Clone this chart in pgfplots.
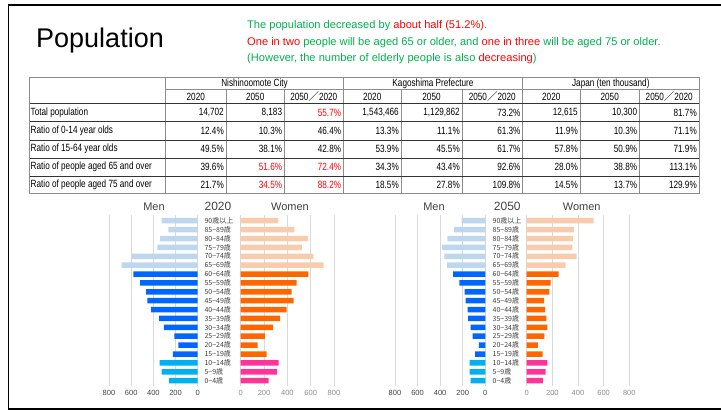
\documentclass[border=0pt]{standalone}
\usepackage{pgfplots}
\pgfplotsset{compat=1.18}
\usepackage{fontspec}
\setmainfont{Liberation Sans}
\newfontfamily\narrow[FakeStretch=0.78]{Liberation Sans}
\newfontfamily\cjk{Noto Sans CJK JP}
\definecolor{grn}{RGB}{0,176,80}
\definecolor{rd}{RGB}{255,0,0}
\definecolor{menold}{RGB}{189,215,238}
\definecolor{menmid}{RGB}{0,102,255}
\definecolor{menyng}{RGB}{0,176,240}
\definecolor{womold}{RGB}{248,203,173}
\definecolor{wommid}{RGB}{255,102,0}
\definecolor{womyng}{RGB}{255,51,153}
\definecolor{txtg}{RGB}{64,64,64}

\pgfplotsset{pyr/.style={scale only axis, anchor=north west,
  height=170.6pt, ymin=-0.6, ymax=18.6, xmin=0, xmax=800,
  ytick=\empty, xtick={0,200,400,600,800},
  axis line style={draw=none}, major tick length=0pt,
  xmajorgrids, grid style={draw=black!15, line width=0.6pt},
  xbar, bar width=5.5pt, bar shift=0pt,
  /pgf/number format/assume math mode=true,
  xticklabel style={font=\fontsize{7.5}{8}\selectfont, text=txtg, yshift=-1pt},
  clip=false}}

\newcommand{\tf}{\narrow\fontsize{10.5}{12}\selectfont}
\newcommand{\fwsl}{{\cjk ／}}
\newcommand{\rowvals}[9]{%
  \node[anchor=east,inner sep=0pt,font=\tf] at (224,\ry) {#1};
  \node[anchor=east,inner sep=0pt,font=\tf] at (282.3,\ry) {#2};
  \node[anchor=east,inner sep=0pt,font=\tf] at (341.3,\ry) {#3};
  \node[anchor=east,inner sep=0pt,font=\tf] at (399,\ry) {#4};
  \node[anchor=east,inner sep=0pt,font=\tf] at (460,\ry) {#5};
  \node[anchor=east,inner sep=0pt,font=\tf] at (520.7,\ry) {#6};
  \node[anchor=east,inner sep=0pt,font=\tf] at (578,\ry) {#7};
  \node[anchor=east,inner sep=0pt,font=\tf] at (637.3,\ry) {#8};
  \node[anchor=east,inner sep=0pt,font=\tf] at (697,\ry) {#9};
}

\begin{document}
\begin{tikzpicture}[x=1pt,y=-1pt]
% slide frame
\draw[line width=2pt] (8,5) -- (721,5);
\draw[line width=1.5pt] (8.5,4) -- (8.5,409.5);
\draw[line width=2pt] (8,409) -- (721,409);

% title and notes
\node[anchor=base west,inner sep=0pt,font=\fontsize{27}{30}\selectfont] at (36,47) {Population};
\node[anchor=base west,inner sep=0pt,font=\fontsize{11.1}{14}\selectfont,text=grn] at (247,28.5)
  {The population decreased by \textcolor{rd}{about half (51.2\%)}.};
\node[anchor=base west,inner sep=0pt,font=\fontsize{11.1}{14}\selectfont,text=grn] at (247,45.5)
  {\textcolor{rd}{One in two} people will be aged 65 or older, and \textcolor{rd}{one in three} will be aged 75 or older.};
\node[anchor=base west,inner sep=0pt,font=\fontsize{11.1}{14}\selectfont,text=grn] at (247,61.5)
  {(However, the number of elderly people is also \textcolor{rd}{decreasing})};

% table lines
\draw[black!45,line width=0.8pt] (165.7,77.7) -- (165.7,193.3);
\foreach \xx in {226,284.3,401,462,580,639.3} \draw[black!45,line width=0.8pt] (\xx,89.3) -- (\xx,193.3);
\foreach \xx in {343.3,522.7} \draw[black!45,line width=0.8pt] (\xx,77.7) -- (\xx,193.3);
\draw[black!45,line width=0.8pt] (165.7,89.3) -- (699,89.3);
\foreach \yy in {103.3,121.7,140,158.3,176} \draw[black!80,line width=0.8pt] (29,\yy) -- (699,\yy);
\draw[black!45,line width=1pt] (29,77.7) rectangle (699,193.3);

% table headers
\node[font=\tf,inner sep=0pt] at (254.5,83.5) {Nishinoomote City};
\node[font=\tf,inner sep=0pt] at (433,83.5) {Kagoshima Prefecture};
\node[font=\tf,inner sep=0pt] at (610.8,83.5) {Japan (ten thousand)};
\foreach \c in {195.8,372.2,551.3} \node[font=\tf,inner sep=0pt] at (\c,96.5) {2020};
\foreach \c in {255.2,431.5,609.7} \node[font=\tf,inner sep=0pt] at (\c,96.5) {2050};
\foreach \c in {313.8,492.3,669.2} \node[font=\tf,inner sep=0pt] at (\c,96.5) {2050\fwsl2020};

% row labels
\node[anchor=west,inner sep=0pt,font=\tf] at (30.5,112.5) {Total population};
\node[anchor=west,inner sep=0pt,font=\tf] at (30.5,130.9) {Ratio of 0-14 year olds};
\node[anchor=west,inner sep=0pt,font=\tf] at (30.5,149.2) {Ratio of 15-64 year olds};
\node[anchor=west,inner sep=0pt,font=\tf] at (30.5,167.2) {Ratio of people aged 65 and over};
\node[anchor=west,inner sep=0pt,font=\tf] at (30.5,184.7) {Ratio of people aged 75 and over};

% row values
\def\ry{112.5}
\rowvals{14,702}{8,183}{\textcolor{rd}{55.7\%}}{1,543,466}{1,129,862}{73.2\%}{12,615}{10,300}{81.7\%}
\def\ry{130.9}
\rowvals{12.4\%}{10.3\%}{46.4\%}{13.3\%}{11.1\%}{61.3\%}{11.9\%}{10.3\%}{71.1\%}
\def\ry{149.2}
\rowvals{49.5\%}{38.1\%}{42.8\%}{53.9\%}{45.5\%}{61.7\%}{57.8\%}{50.9\%}{71.9\%}
\def\ry{167.2}
\rowvals{39.6\%}{\textcolor{rd}{51.6\%}}{\textcolor{rd}{72.4\%}}{34.3\%}{43.4\%}{92.6\%}{28.0\%}{38.8\%}{113.1\%}
\def\ry{184.7}
\rowvals{21.7\%}{\textcolor{rd}{34.5\%}}{\textcolor{rd}{88.2\%}}{18.5\%}{27.8\%}{109.8\%}{14.5\%}{13.7\%}{129.9\%}

% ---------- 2020 pyramid ----------
\begin{axis}[pyr, at={(109pt,-215.4pt)}, width=88.7pt, x dir=reverse]
\addplot[fill=menyng,draw=none] coordinates {(259,0) (325,1) (343,2)};
\addplot[fill=menmid,draw=none] coordinates {(223,3) (174,4) (211,5) (304,6) (349,7) (421,8) (454,9) (466,10) (520,11) (580,12)};
\addplot[fill=menold,draw=none] coordinates {(686,13) (595,14) (364,15) (340,16) (265,17) (325,18)};
\end{axis}
\begin{axis}[pyr, at={(240.7pt,-215.4pt)}, width=93.3pt, xticklabel style={text=black!45}]
\addplot[fill=womyng,draw=none] coordinates {(239,0) (313,1) (325,2)};
\addplot[fill=wommid,draw=none] coordinates {(222,3) (145,4) (208,5) (279,6) (339,7) (393,8) (453,9) (436,10) (479,11) (581,12)};
\addplot[fill=womold,draw=none] coordinates {(712,13) (624,14) (524,15) (575,16) (461,17) (322,18)};
\end{axis}

% ---------- 2050 pyramid ----------
\begin{axis}[pyr, at={(395pt,-215.4pt)}, width=90.3pt, x dir=reverse]
\addplot[fill=menyng,draw=none] coordinates {(130,0) (139,1) (139,2)};
\addplot[fill=menmid,draw=none] coordinates {(91,3) (56,4) (112,5) (130,6) (153,7) (156,8) (174,9) (183,10) (230,11) (286,12)};
\addplot[fill=menold,draw=none] coordinates {(339,13) (363,14) (383,15) (336,16) (277,17) (210,18)};
\end{axis}
\begin{axis}[pyr, at={(526.7pt,-215.4pt)}, width=102.6pt, xticklabel style={text=black!45}]
\addplot[fill=womyng,draw=none] coordinates {(127,0) (148,1) (161,2)};
\addplot[fill=wommid,draw=none] coordinates {(125,3) (88,4) (138,5) (161,6) (153,7) (143,8) (135,9) (177,10) (187,11) (249,12)};
\addplot[fill=womold,draw=none] coordinates {(304,13) (390,14) (356,15) (361,16) (369,17) (522,18)};
\end{axis}

% pyramid headings
\node[font=\fontsize{11}{12}\selectfont,text=txtg] at (154,206.3) {Men};
\node[font=\fontsize{12}{13}\selectfont,text=txtg] at (218,206.3) {2020};
\node[font=\fontsize{11}{12}\selectfont,text=txtg] at (290,206.3) {Women};
\node[font=\fontsize{11}{12}\selectfont,text=txtg] at (434,206.3) {Men};
\node[font=\fontsize{12}{13}\selectfont,text=txtg] at (507.3,206.3) {2050};
\node[font=\fontsize{11}{12}\selectfont,text=txtg] at (581.7,206.3) {Women};

% age labels
\foreach \i/\lab in {0/0−4歳,1/5−9歳,2/10−14歳,3/15−19歳,4/20−24歳,5/25−29歳,6/30−34歳,7/35−39歳,8/40−44歳,9/45−49歳,10/50−54歳,11/55−59歳,12/60−64歳,13/65−69歳,14/70−74歳,15/75−79歳,16/80−84歳,17/85−89歳,18/90歳以上}{
  \pgfmathsetmacro{\yy}{380.7-\i*8.889}
  \node[anchor=west,inner sep=0pt,font=\cjk\fontsize{7}{8}\selectfont,text=txtg] at (204.3,\yy) {\lab};
  \node[anchor=west,inner sep=0pt,font=\cjk\fontsize{7}{8}\selectfont,text=txtg] at (492.5,\yy) {\lab};
}

\pgfresetboundingbox
\path[use as bounding box] (0,0) rectangle (721,410);
\end{tikzpicture}
\end{document}
